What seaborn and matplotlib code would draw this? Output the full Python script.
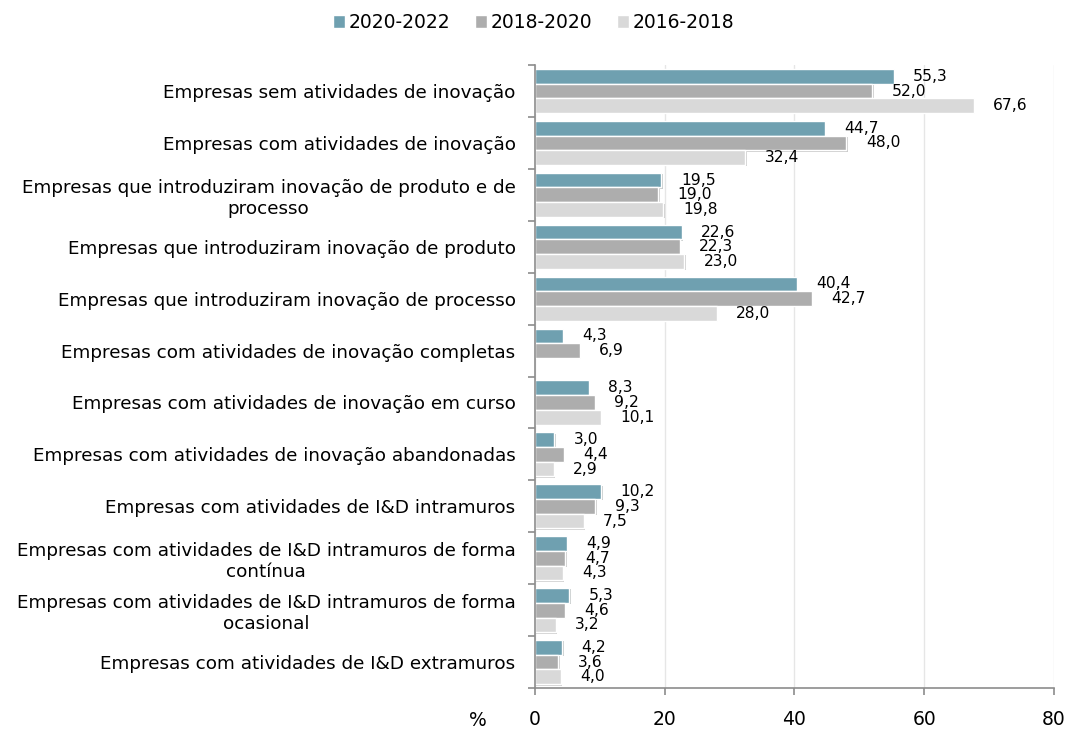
import numpy as np
import pandas as pd
import matplotlib
matplotlib.use("Agg")
import matplotlib.pyplot as plt
import matplotlib.patheffects as pe
import seaborn as sns

categories = [
    "Empresas sem atividades de inovação",
    "Empresas com atividades de inovação",
    "Empresas que introduziram inovação de produto e de\nprocesso",
    "Empresas que introduziram inovação de produto",
    "Empresas que introduziram inovação de processo",
    "Empresas com atividades de inovação completas",
    "Empresas com atividades de inovação em curso",
    "Empresas com atividades de inovação abandonadas",
    "Empresas com atividades de I&D intramuros",
    "Empresas com atividades de I&D intramuros de forma\ncontínua",
    "Empresas com atividades de I&D intramuros de forma\nocasional",
    "Empresas com atividades de I&D extramuros",
]
series_names = ["2020-2022", "2018-2020", "2016-2018"]
v_2020_2022 = [55.3, 44.7, 19.5, 22.6, 40.4, 4.3, 8.3, 3.0, 10.2, 4.9, 5.3, 4.2]
v_2018_2020 = [52.0, 48.0, 19.0, 22.3, 42.7, 6.9, 9.2, 4.4, 9.3, 4.7, 4.6, 3.6]
v_2016_2018 = [67.6, 32.4, 19.8, 23.0, 28.0, np.nan, 10.1, 2.9, 7.5, 4.3, 3.2, 4.0]
colors = ["#6FA0B0", "#ADADAD", "#D9D9D9"]

rows = []
for s, vals in zip(series_names, [v_2020_2022, v_2018_2020, v_2016_2018]):
    for c, v in zip(categories, vals):
        rows.append({"cat": c, "serie": s, "val": v})
df = pd.DataFrame(rows)

sns.set_style("white")
plt.rcParams["font.family"] = ["DejaVu Sans"]
plt.rcParams["text.color"] = "black"

fig = plt.figure(figsize=(10.67, 7.31), dpi=100)
ax = fig.add_axes([0.5014, 0.0588, 0.4864, 0.8522])

sns.barplot(data=df, y="cat", x="val", hue="serie", order=categories,
            hue_order=series_names, palette=colors, orient="h",
            width=0.85, saturation=1, ax=ax, errorbar=None, legend=True)

for cont in ax.containers:
    for p in cont.patches:
        p.set_path_effects([pe.SimplePatchShadow(offset=(1.0, -1.0), alpha=0.25), pe.Normal()])
    labels = []
    for p in cont.patches:
        w = p.get_width()
        labels.append("" if np.isnan(w) or w == 0 else f"{w:.1f}".replace(".", ","))
    ax.bar_label(cont, labels=labels, padding=14, fontsize=11.2, color="black")

ax.set_xlim(0, 80)
ax.set_xticks([0, 20, 40, 60, 80])
ax.set_xlabel("")
ax.set_ylabel("")
ax.grid(axis="x", color="#E6E6E6", linewidth=1)
ax.set_axisbelow(True)
for side in ["top", "right"]:
    ax.spines[side].set_visible(False)
for side in ["left", "bottom"]:
    ax.spines[side].set_color("#8C8C8C")
    ax.spines[side].set_linewidth(1.2)

ax.tick_params(axis="y", which="major", left=False, length=0, labelsize=13.2, pad=14,
               labelcolor="black")
ax.set_yticks(np.arange(-0.5, len(categories), 1.0), minor=True)
ax.tick_params(axis="y", which="minor", left=True, length=5, direction="out",
               color="#8C8C8C", width=1.2)
ax.tick_params(axis="x", bottom=True, length=5, direction="out", color="#8C8C8C", width=1.2,
               labelsize=13.5, pad=11, labelcolor="black")
for t in ax.get_yticklabels():
    t.set_multialignment("center")

fig.text(478 / 1067, 1 - 720 / 731, "%", fontsize=13.5, va="center", ha="center", color="black")

handles, labs = ax.get_legend_handles_labels()
ax.legend(handles, labs, loc="upper center", bbox_to_anchor=(0.5, 1.005),
          bbox_transform=fig.transFigure, ncol=3, frameon=False, fontsize=13.5,
          handlelength=0.65, handleheight=0.65, handletextpad=0.2, columnspacing=1.3)

fig.savefig("out.png", dpi=100)
